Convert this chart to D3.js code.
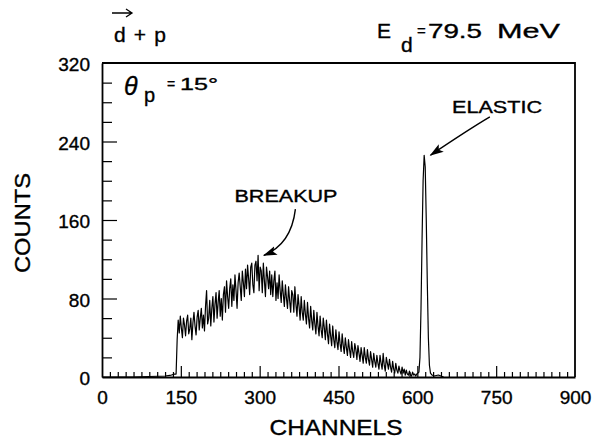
<!DOCTYPE html>
<html>
<head>
<meta charset="utf-8">
<script src="https://cdn.jsdelivr.net/npm/d3@7"></script>
<style>
  body { margin: 0; background: #fff; }
  svg { display: block; font-family: "Liberation Sans", Arial, sans-serif; }
  svg text { fill: #000; stroke: #000; stroke-width: 0.35px; }
  .tick text { font-size: 19px; }
  .axis-label { font-size: 22px; }
</style>
</head>
<body>
<div id="spectrum"></div>
<script>
// ---- data ----
const leadChannels = [0, 60, 120, 132, 138];
const leadCounts = [0, 0, 1, 2, 3];

// breakup continuum, one value every 2 channels starting at channel 141
const breakupStart = 141;
const breakupStep = 2;
const breakupCounts = [
  3,
  38, 58, 45, 62, 50, 40, 60, 53, 42, 57,
  63, 44, 49, 60, 38, 55, 66, 52, 43, 61,
  68, 48, 60, 70, 50, 63, 47, 72, 88, 54,
  60, 78, 52, 70, 82, 56, 74, 86, 60, 76,
  88, 62, 80, 58, 84, 92, 66, 98, 82, 70,
  90, 100, 72, 94, 78, 104, 88, 70, 96, 106,
  92, 78, 108, 96, 82, 110, 90, 114, 100, 84,
  112, 116, 94, 86, 114, 118, 98, 124, 88, 112,
  108, 86, 116, 98, 82, 112, 102, 90, 108, 84,
  104, 82, 98, 108, 78, 96, 80, 104, 88, 76,
  98, 84, 72, 94, 80, 70, 92, 78, 66, 88,
  84, 66, 92, 74, 62, 84, 72, 58, 82, 66,
  58, 78, 64, 54, 76, 60, 50, 72, 58, 48,
  68, 54, 44, 66, 52, 42, 62, 48, 40, 60,
  50, 38, 58, 44, 34, 54, 42, 32, 52, 38,
  30, 48, 36, 28, 46, 34, 26, 44, 32, 24,
  40, 30, 22, 38, 28, 20, 36, 26, 20, 34,
  28, 18, 32, 24, 16, 30, 22, 14, 30, 20,
  14, 28, 18, 12, 26, 18, 10, 24, 16, 10,
  22, 14, 8, 22, 14, 8, 24, 12, 6, 20,
  14, 8, 18, 10, 5, 16, 8, 4, 14, 7,
  4, 11, 6, 3, 10, 4, 8, 2, 7, 3,
  2, 6, 2, 1, 5, 2, 3, 1, 3, 4
];

// elastic peak
const elasticChannels = [603, 605, 607, 609, 611, 613, 615, 617, 619, 621, 623, 625, 628, 632, 640, 650];
const elasticCounts = [5, 20, 70, 140, 200, 226, 214, 160, 95, 40, 12, 4, 2, 1, 2, 0];

const xMajorTicks = [0, 150, 300, 450, 600, 750, 900];
const yMajorTicks = [0, 80, 160, 240, 320];

// ---- layout ----
const width = 601, height = 441;
const plot = { left: 102, right: 575, top: 63, bottom: 377 };

const xScale = d3.scaleLinear().domain([0, 900]).range([plot.left, plot.right]);
const yScale = d3.scaleLinear().domain([0, 320]).range([plot.bottom, plot.top]);

// assemble the spectrum as [channel, counts]
const spectrum = [];
leadChannels.forEach((c, i) => spectrum.push([c, leadCounts[i]]));
breakupCounts.forEach((v, i) => spectrum.push([breakupStart + i * breakupStep, v]));
elasticChannels.forEach((c, i) => spectrum.push([c, elasticCounts[i]]));

const svg = d3.select("#spectrum")
  .append("svg")
    .attr("width", width)
    .attr("height", height);

// arrow head
svg.append("defs")
  .append("marker")
    .attr("id", "arrow")
    .attr("viewBox", "0 -5 14 10")
    .attr("refX", 13)
    .attr("refY", 0)
    .attr("markerUnits", "userSpaceOnUse")
    .attr("markerWidth", 14)
    .attr("markerHeight", 10)
    .attr("orient", "auto")
  .append("path")
    .attr("d", "M0,-4.5L14,0L0,4.5L3,0Z")
    .attr("fill", "#000");

/* ---- axes ---- */
// x minor ticks every 15 channels
svg.append("g")
    .attr("transform", `translate(0, ${plot.bottom})`)
    .call(d3.axisBottom(xScale)
      .tickValues(d3.range(15, 900, 15).filter(d => d % 150 !== 0))
      .tickSizeInner(-5).tickSizeOuter(0).tickFormat(""))
    .call(g => g.select(".domain").remove())
    .call(g => g.selectAll("line").attr("stroke", "#000").attr("stroke-width", 1.2));

// x major ticks with labels
svg.append("g")
    .attr("transform", `translate(0, ${plot.bottom})`)
    .call(d3.axisBottom(xScale)
      .tickValues(xMajorTicks)
      .tickSizeInner(-11).tickSizeOuter(0).tickPadding(10))
    .call(g => g.select(".domain").attr("stroke", "#000").attr("stroke-width", 1.8))
    .call(g => g.selectAll(".tick line").attr("stroke", "#000").attr("stroke-width", 1.2)
      .filter(d => d === 0 || d === 900).remove())
    .call(g => g.selectAll(".tick text").attr("dy", "0.9em"));

// y minor ticks every 20 counts
svg.append("g")
    .attr("transform", `translate(${plot.left}, 0)`)
    .call(d3.axisLeft(yScale)
      .tickValues(d3.range(20, 320, 20).filter(d => d % 80 !== 0))
      .tickSizeInner(-10).tickSizeOuter(0).tickFormat(""))
    .call(g => g.select(".domain").remove())
    .call(g => g.selectAll("line").attr("stroke", "#000").attr("stroke-width", 1.2));

// y major ticks with labels
svg.append("g")
    .attr("transform", `translate(${plot.left}, 0)`)
    .call(d3.axisLeft(yScale)
      .tickValues(yMajorTicks)
      .tickSizeInner(-15).tickSizeOuter(0).tickPadding(12))
    .call(g => g.select(".domain").attr("stroke", "#000").attr("stroke-width", 1.8))
    .call(g => g.selectAll(".tick line").attr("stroke", "#000").attr("stroke-width", 1.2)
      .filter(d => d === 0 || d === 320).remove())
    .call(g => g.selectAll(".tick text").attr("dy", "0.4em"));

// frame: top and right
svg.append("path")
    .attr("d", `M${plot.left},${plot.top}H${plot.right}V${plot.bottom}`)
    .attr("fill", "none")
    .attr("stroke", "#000")
    .attr("stroke-width", 1.8);

/* ---- spectrum ---- */
const line = d3.line()
  .x(d => xScale(d[0]))
  .y(d => yScale(d[1]));

svg.append("path")
    .datum(spectrum)
    .attr("d", line)
    .attr("fill", "none")
    .attr("stroke", "#000")
    .attr("stroke-width", 1.2)
    .attr("stroke-linejoin", "round");

/* ---- axis labels ---- */
svg.append("text")
    .attr("class", "axis-label")
    .attr("text-anchor", "middle")
    .attr("x", 336)
    .attr("y", 435)
    .attr("textLength", 133)
    .attr("lengthAdjust", "spacingAndGlyphs")
    .text("CHANNELS");

svg.append("text")
    .attr("class", "axis-label")
    .attr("text-anchor", "middle")
    .attr("transform", "translate(30, 223) rotate(-90)")
    .attr("textLength", 100)
    .attr("lengthAdjust", "spacingAndGlyphs")
    .text("COUNTS");

/* ---- titles ---- */
svg.append("text")
    .attr("x", 114)
    .attr("y", 42)
    .attr("font-size", 21)
    .attr("textLength", 52)
    .text("d + p");
svg.append("path")
    .attr("d", "M112,13H131M126,9L132,13L126,17")
    .attr("fill", "none")
    .attr("stroke", "#000")
    .attr("stroke-width", 1.3);

svg.append("text")
    .attr("x", 377).attr("y", 38)
    .attr("font-size", 21)
    .text("E");
svg.append("text")
    .attr("x", 401).attr("y", 52)
    .attr("font-size", 21)
    .text("d");
svg.append("text")
    .attr("x", 417).attr("y", 36)
    .attr("font-size", 15)
    .text("=");
svg.append("text")
    .attr("x", 428).attr("y", 38)
    .attr("font-size", 21)
    .attr("textLength", 54).attr("lengthAdjust", "spacingAndGlyphs")
    .text("79.5");
svg.append("text")
    .attr("x", 497).attr("y", 38)
    .attr("font-size", 21)
    .attr("textLength", 63).attr("lengthAdjust", "spacingAndGlyphs")
    .text("MeV");

svg.append("text")
    .attr("x", 124).attr("y", 95)
    .attr("font-size", 25).attr("font-style", "italic")
    .text("θ");
svg.append("text")
    .attr("x", 144).attr("y", 102)
    .attr("font-size", 20)
    .text("p");
svg.append("text")
    .attr("x", 167).attr("y", 89)
    .attr("font-size", 14)
    .text("=");
svg.append("text")
    .attr("x", 180).attr("y", 90)
    .attr("font-size", 17)
    .attr("textLength", 38).attr("lengthAdjust", "spacingAndGlyphs")
    .text("15°");

/* ---- annotations ---- */
svg.append("text")
    .attr("x", 497)
    .attr("y", 113)
    .attr("text-anchor", "middle")
    .attr("font-size", 17)
    .attr("textLength", 90)
    .attr("lengthAdjust", "spacingAndGlyphs")
    .text("ELASTIC");

svg.append("text")
    .attr("x", 286)
    .attr("y", 202)
    .attr("text-anchor", "middle")
    .attr("font-size", 17)
    .attr("textLength", 103)
    .attr("lengthAdjust", "spacingAndGlyphs")
    .text("BREAKUP");

// arrows defined in data space (channel, counts)
const arrows = [
  { from: [738, 265], via: [700, 253], to: [625, 226] },
  { from: [368, 171], via: [360, 135], to: [308, 124] }
];
svg.selectAll(".arrow")
  .data(arrows)
  .join("path")
    .attr("class", "arrow")
    .attr("d", d => `M${xScale(d.from[0])},${yScale(d.from[1])}Q${xScale(d.via[0])},${yScale(d.via[1])} ${xScale(d.to[0])},${yScale(d.to[1])}`)
    .attr("fill", "none")
    .attr("stroke", "#000")
    .attr("stroke-width", 1.4)
    .attr("marker-end", "url(#arrow)");
</script>
</body>
</html>
